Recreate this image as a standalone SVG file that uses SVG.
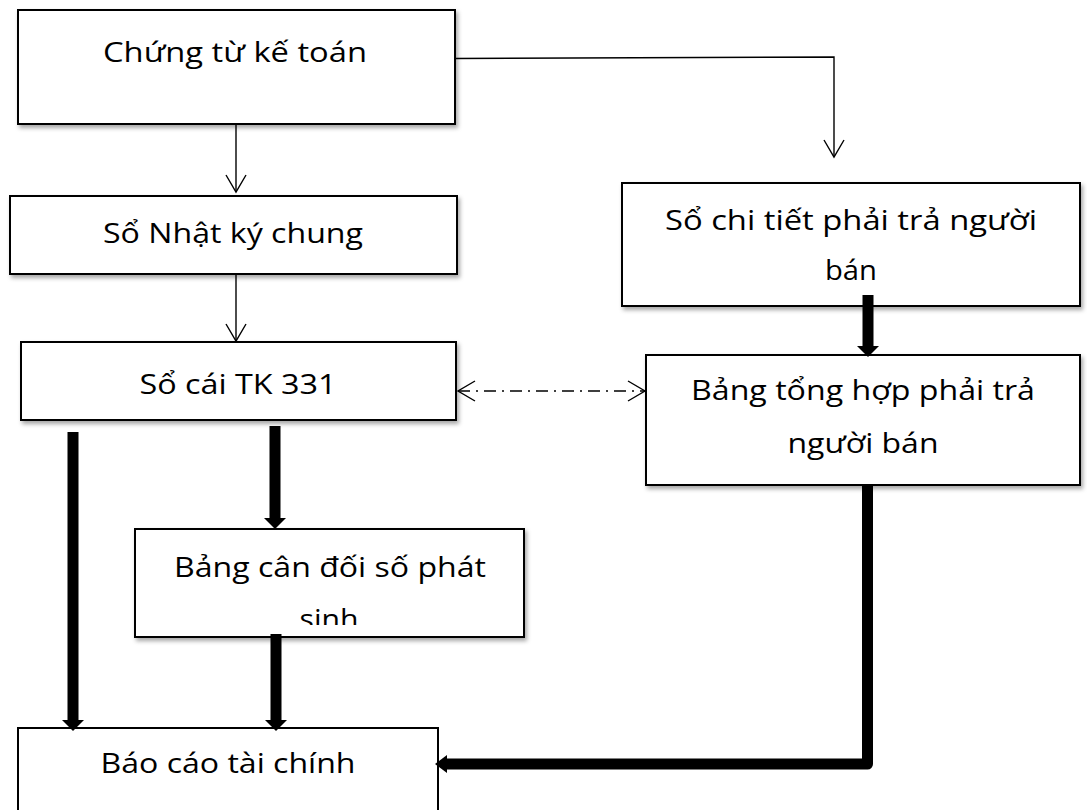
<svg xmlns="http://www.w3.org/2000/svg" width="1087" height="810" viewBox="0 0 1087 810">
  <style>
    .box { fill: #ffffff; stroke: #000000; stroke-width: 2; }
    .shadow { filter: url(#soft); }
    .label { font-family: "Open Sans", Lato, "Noto Sans", sans-serif; font-size: 26.5px; fill: #000000; text-anchor: middle; }
    .thin { fill: none; stroke: #000000; stroke-width: 1.4; }
    .thick { fill: none; stroke: #000000; stroke-width: 11; }
    .dashdot { fill: none; stroke: #000000; stroke-width: 1.4; stroke-dasharray: 12 6 2 6; }
    .head { fill: #000000; }
  </style>
  <defs>
    <filter id="soft" x="-5%" y="-10%" width="115%" height="130%">
      <feDropShadow dx="2" dy="3" stdDeviation="2" flood-color="#000000" flood-opacity="0.35"/>
    </filter>
    <marker id="vee" markerUnits="userSpaceOnUse" viewBox="-18 -11 20 22" refX="0" refY="0" markerWidth="20" markerHeight="22" orient="auto-start-reverse">
      <path d="M-17,-10 L0,0 L-17,10" fill="none" stroke="#000000" stroke-width="1.4"/>
    </marker>
    <clipPath id="clipBalance">
      <rect x="135" y="529" width="389" height="96"/>
    </clipPath>
  </defs>

  <!-- nodes -->
  <g id="chung-tu">
    <rect class="box shadow" x="18" y="10" width="437" height="114"/>
    <text class="label" x="235" y="62" textLength="264" lengthAdjust="spacingAndGlyphs">Chứng từ kế toán</text>
  </g>
  <g id="nhat-ky-chung">
    <rect class="box shadow" x="10" y="196" width="447" height="78"/>
    <text class="label" x="233" y="243" textLength="260" lengthAdjust="spacingAndGlyphs">Sổ Nhật ký chung</text>
  </g>
  <g id="so-cai">
    <rect class="box shadow" x="21" y="342" width="435" height="78"/>
    <text class="label" x="238" y="394" textLength="197" lengthAdjust="spacingAndGlyphs">Sổ cái TK 331</text>
  </g>
  <g id="so-chi-tiet">
    <rect class="box shadow" x="622" y="183" width="458" height="123"/>
    <text class="label" x="851" y="230" textLength="372" lengthAdjust="spacingAndGlyphs">Sổ chi tiết phải trả người</text>
    <text class="label" x="851" y="280" textLength="52" lengthAdjust="spacingAndGlyphs">bán</text>
  </g>
  <g id="bang-tong-hop">
    <rect class="box shadow" x="646" y="355" width="434" height="130"/>
    <text class="label" x="863" y="400" textLength="344" lengthAdjust="spacingAndGlyphs">Bảng tổng hợp phải trả</text>
    <text class="label" x="863" y="453" textLength="151" lengthAdjust="spacingAndGlyphs">người bán</text>
  </g>
  <g id="bang-can-doi">
    <rect class="box shadow" x="135" y="529" width="389" height="108"/>
    <text class="label" x="330" y="577" textLength="312" lengthAdjust="spacingAndGlyphs">Bảng cân đối số phát</text>
    <text class="label" x="329" y="629" textLength="59" lengthAdjust="spacingAndGlyphs" clip-path="url(#clipBalance)">sinh</text>
  </g>
  <g id="bao-cao">
    <rect class="box" x="18" y="728" width="420" height="110" stroke-width="1.5"/>
    <text class="label" x="228" y="773" textLength="255" lengthAdjust="spacingAndGlyphs">Báo cáo tài chính</text>
  </g>

  <!-- connectors -->
  <g id="connectors">
    <!-- thin flow arrows -->
    <path class="thin" d="M236,124 V192" marker-end="url(#vee)"/>
    <path class="thin" d="M236,274 V341" marker-end="url(#vee)"/>
    <path class="thin" d="M455,58.5 L834,57 V157" marker-end="url(#vee)"/>
    <!-- two-way reconciliation link -->
    <path class="dashdot" d="M458,391 H645" marker-start="url(#vee)" marker-end="url(#vee)"/>

    <!-- heavy summary arrows -->
    <path class="thick" d="M73,432 V721"/>
    <polygon class="head" points="62,720 84,720 73,731"/>
    <path class="thick" d="M275,426 V520"/>
    <polygon class="head" points="264,518 286,518 275,529"/>
    <path class="thick" d="M276,634 V721"/>
    <polygon class="head" points="265,720 287,720 276,731"/>
    <path class="thick" d="M868,295 V348"/>
    <polygon class="head" points="857,346 879,346 868,357"/>
    <path class="thick" d="M867.5,485 V764 H446" stroke-linejoin="round"/>
    <polygon class="head" points="447,755 435,764 447,773"/>
  </g>
</svg>
